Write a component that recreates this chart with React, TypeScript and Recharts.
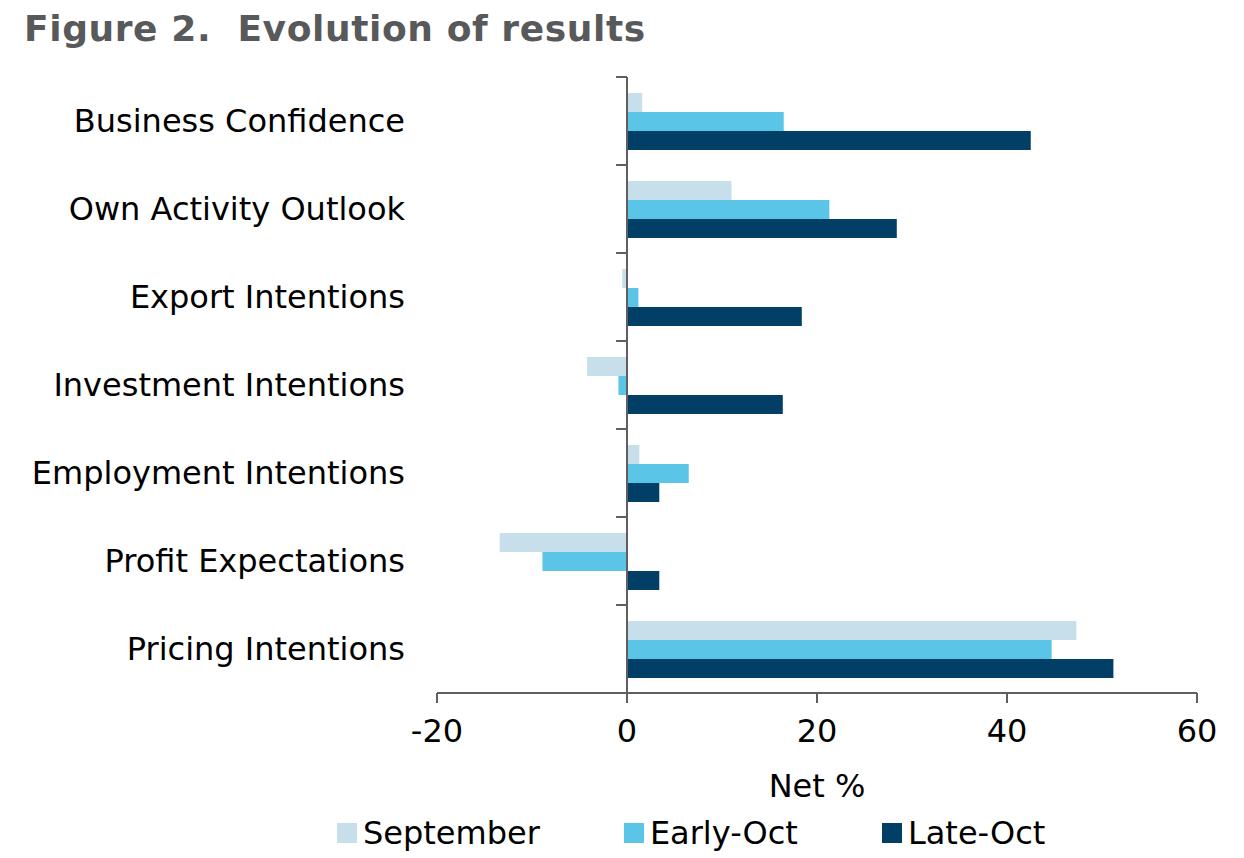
import React from 'react';
import { BarChart, Bar, XAxis, YAxis, ReferenceLine } from 'recharts';

const categories = [
  'Business Confidence',
  'Own Activity Outlook',
  'Export Intentions',
  'Investment Intentions',
  'Employment Intentions',
  'Profit Expectations',
  'Pricing Intentions',
];
const september = [1.6, 11.0, -0.5, -4.2, 1.3, -13.4, 47.3];
const earlyOct = [16.5, 21.3, 1.2, -0.9, 6.5, -8.9, 44.7];
const lateOct = [42.5, 28.4, 18.4, 16.4, 3.4, 3.4, 51.2];
const xTicks = [-20, 0, 20, 40, 60];

const seriesNames = ['September', 'Early-Oct', 'Late-Oct'];
const colors = ['#c6dfea', '#5bc5e8', '#023f66'];

const data = categories.map((c, i) => ({
  name: c,
  September: september[i],
  'Early-Oct': earlyOct[i],
  'Late-Oct': lateOct[i],
}));

const FONT = '"DejaVu Sans", Verdana, sans-serif';
const AXIS = '#5f5f5f';

const CatTick = (props: any) => {
  const { x, y, payload } = props;
  return (
    <text x={x} y={y} textAnchor="end" dominantBaseline="central" fontFamily={FONT} fontSize={32} fill="#000">
      {payload.value}
    </text>
  );
};

export default function App() {
  return (
    <div style={{ position: 'absolute', left: 0, top: 0, width: 1244, height: 858, background: '#fff' }}>
      <div
        style={{
          position: 'absolute',
          left: 24,
          top: 11,
          fontFamily: FONT,
          fontWeight: 'bold',
          fontSize: 36,
          lineHeight: 1,
          color: '#58595b',
          letterSpacing: 0.6,
          whiteSpace: 'pre',
        }}
      >
        {'Figure 2.  Evolution of results'}
      </div>
      <BarChart
        width={1244}
        height={858}
        data={data}
        layout="vertical"
        margin={{ top: 77, right: 47, left: 0, bottom: 55 }}
        barGap={0}
        barSize={19}
      >
        <XAxis
          type="number"
          domain={[-20, 60]}
          ticks={xTicks}
          allowDataOverflow
          height={110}
          axisLine={{ stroke: AXIS, strokeWidth: 2 }}
          tickLine={{ stroke: AXIS, strokeWidth: 2 }}
          tickSize={10}
          tickMargin={16}
          tick={{ fontFamily: FONT, fontSize: 32, fill: '#000' }}
          label={{ value: 'Net %', position: 'insideBottom', offset: 6, fontFamily: FONT, fontSize: 32, fill: '#000' }}
        />
        <YAxis
          type="category"
          dataKey="name"
          width={437}
          axisLine={false}
          tickLine={false}
          tickSize={0}
          tickMargin={32}
          interval={0}
          tick={<CatTick />}
        />
        {seriesNames.map((n, i) => (
          <Bar key={n} dataKey={n} fill={colors[i]} isAnimationActive={false} />
        ))}
        <ReferenceLine x={0} stroke={AXIS} strokeWidth={2} />
        {categories.map((c) => (
          <ReferenceLine
            key={c}
            segment={[{ x: -1.15, y: c }, { x: 0, y: c }]}
            position="start"
            stroke={AXIS}
            strokeWidth={2}
          />
        ))}
        <ReferenceLine
          segment={[{ x: -1.15, y: categories[categories.length - 1] }, { x: 0, y: categories[categories.length - 1] }]}
          position="end"
          stroke={AXIS}
          strokeWidth={2}
        />
      </BarChart>
      <div
        style={{
          position: 'absolute',
          left: 0,
          top: 814,
          width: 1244,
          display: 'flex',
          paddingLeft: 337,
          fontFamily: FONT,
          fontSize: 32,
          color: '#000',
          boxSizing: 'border-box',
        }}
      >
        {seriesNames.map((n, i) => (
          <div key={n} style={{ display: 'flex', alignItems: 'center', marginRight: 84 }}>
            <span style={{ display: 'inline-block', width: 20, height: 20, background: colors[i], marginRight: 6 }} />
            <span>{n}</span>
          </div>
        ))}
      </div>
    </div>
  );
}
